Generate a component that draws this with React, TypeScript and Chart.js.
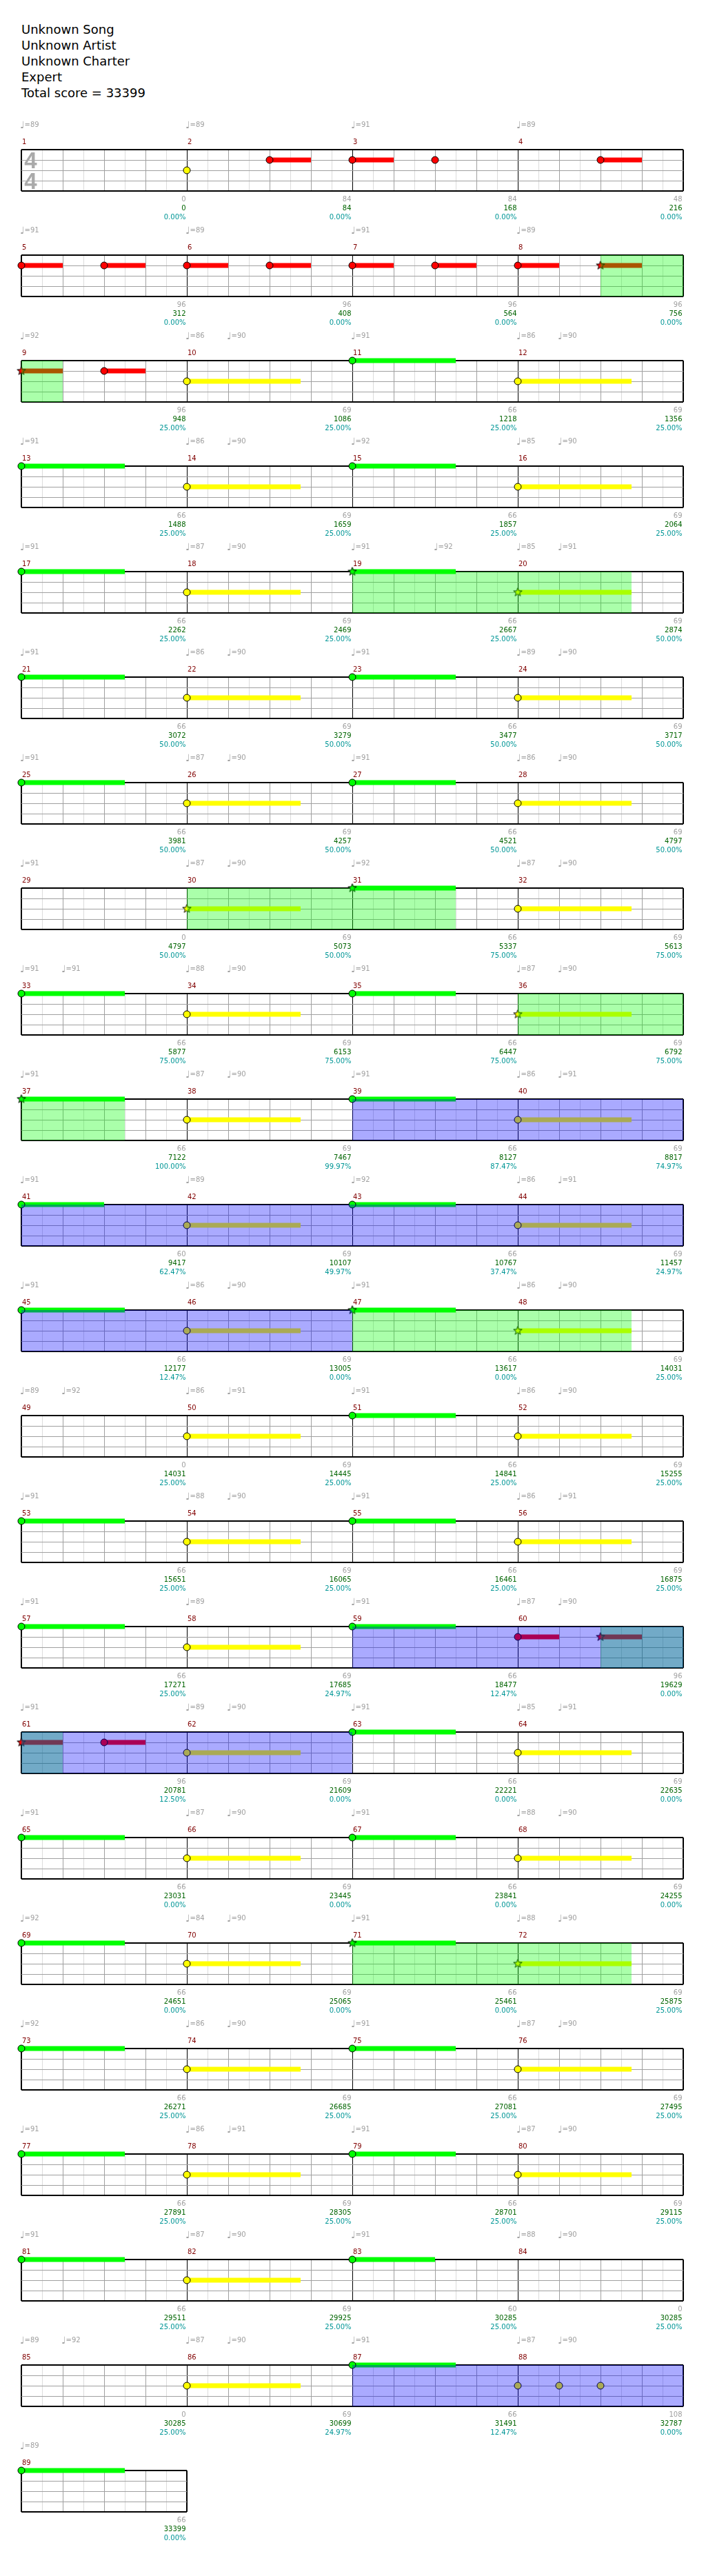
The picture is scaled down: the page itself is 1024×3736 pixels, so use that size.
import React, { useEffect, useRef } from "react";
import { Chart, registerables } from "chart.js";

Chart.register(...registerables);

const TITLE_LINES = ["Unknown Song", "Unknown Artist", "Unknown Charter", "Expert", "Total score = 33399"];
const MEASURE_COUNT = 89;
const MEASURES_PER_ROW = 4;
const BEATS_PER_MEASURE = 4;
const LANE_COLORS = ["#00ff00", "#ff0000", "#ffff00", "#0000ff", "#ff8000"];

// [measure, beat, bpm]
const TEMPOS: number[][] = [
  [1, 0, 89], [2, 0, 89], [3, 0, 91], [4, 0, 89],
  [5, 0, 91], [6, 0, 89], [7, 0, 91], [8, 0, 89],
  [9, 0, 92], [10, 0, 86], [10, 1, 90], [11, 0, 91], [12, 0, 86], [12, 1, 90],
  [13, 0, 91], [14, 0, 86], [14, 1, 90], [15, 0, 92], [16, 0, 85], [16, 1, 90],
  [17, 0, 91], [18, 0, 87], [18, 1, 90], [19, 0, 91], [19, 2, 92], [20, 0, 85], [20, 1, 91],
  [21, 0, 91], [22, 0, 86], [22, 1, 90], [23, 0, 91], [24, 0, 89], [24, 1, 90],
  [25, 0, 91], [26, 0, 87], [26, 1, 90], [27, 0, 91], [28, 0, 86], [28, 1, 90],
  [29, 0, 91], [30, 0, 87], [30, 1, 90], [31, 0, 92], [32, 0, 87], [32, 1, 90],
  [33, 0, 91], [33, 1, 91], [34, 0, 88], [34, 1, 90], [35, 0, 91], [36, 0, 87], [36, 1, 90],
  [37, 0, 91], [38, 0, 87], [38, 1, 90], [39, 0, 91], [40, 0, 86], [40, 1, 91],
  [41, 0, 91], [42, 0, 89], [43, 0, 92], [44, 0, 86], [44, 1, 91],
  [45, 0, 91], [46, 0, 86], [46, 1, 90], [47, 0, 91], [48, 0, 86], [48, 1, 90],
  [49, 0, 89], [49, 1, 92], [50, 0, 86], [50, 1, 91], [51, 0, 91], [52, 0, 86], [52, 1, 90],
  [53, 0, 91], [54, 0, 88], [54, 1, 90], [55, 0, 91], [56, 0, 86], [56, 1, 91],
  [57, 0, 91], [58, 0, 89], [59, 0, 91], [60, 0, 87], [60, 1, 90],
  [61, 0, 91], [62, 0, 89], [62, 1, 90], [63, 0, 91], [64, 0, 85], [64, 1, 91],
  [65, 0, 91], [66, 0, 87], [66, 1, 90], [67, 0, 91], [68, 0, 88], [68, 1, 90],
  [69, 0, 92], [70, 0, 84], [70, 1, 90], [71, 0, 91], [72, 0, 88], [72, 1, 90],
  [73, 0, 92], [74, 0, 86], [74, 1, 90], [75, 0, 91], [76, 0, 87], [76, 1, 90],
  [77, 0, 91], [78, 0, 86], [78, 1, 91], [79, 0, 91], [80, 0, 87], [80, 1, 90],
  [81, 0, 91], [82, 0, 87], [82, 1, 90], [83, 0, 91], [84, 0, 88], [84, 1, 90],
  [85, 0, 89], [85, 1, 92], [86, 0, 87], [86, 1, 90], [87, 0, 91], [88, 0, 87], [88, 1, 90],
  [89, 0, 89],
];

// [measure, beat, lane (0 green .. 4 orange), sustain beats, star note]
const NOTES: number[][] = [
  [2, 0, 2, 0, 0], [2, 2, 1, 1, 0], [3, 0, 1, 1, 0], [3, 2, 1, 0, 0], [4, 2, 1, 1, 0],
  [5, 0, 1, 1, 0], [5, 2, 1, 1, 0], [6, 0, 1, 1, 0], [6, 2, 1, 1, 0], [7, 0, 1, 1, 0], [7, 2, 1, 1, 0], [8, 0, 1, 1, 0], [8, 2, 1, 1, 1],
  [9, 0, 1, 1, 1], [9, 2, 1, 1, 0], [10, 0, 2, 2.75, 0], [11, 0, 0, 2.5, 0], [12, 0, 2, 2.75, 0],
  [13, 0, 0, 2.5, 0], [14, 0, 2, 2.75, 0], [15, 0, 0, 2.5, 0], [16, 0, 2, 2.75, 0],
  [17, 0, 0, 2.5, 0], [18, 0, 2, 2.75, 0], [19, 0, 0, 2.5, 1], [20, 0, 2, 2.75, 1],
  [21, 0, 0, 2.5, 0], [22, 0, 2, 2.75, 0], [23, 0, 0, 2.5, 0], [24, 0, 2, 2.75, 0],
  [25, 0, 0, 2.5, 0], [26, 0, 2, 2.75, 0], [27, 0, 0, 2.5, 0], [28, 0, 2, 2.75, 0],
  [30, 0, 2, 2.75, 1], [31, 0, 0, 2.5, 1], [32, 0, 2, 2.75, 0],
  [33, 0, 0, 2.5, 0], [34, 0, 2, 2.75, 0], [35, 0, 0, 2.5, 0], [36, 0, 2, 2.75, 1],
  [37, 0, 0, 2.5, 1], [38, 0, 2, 2.75, 0], [39, 0, 0, 2.5, 0], [40, 0, 2, 2.75, 0],
  [41, 0, 0, 2, 0], [42, 0, 2, 2.75, 0], [43, 0, 0, 2.5, 0], [44, 0, 2, 2.75, 0],
  [45, 0, 0, 2.5, 0], [46, 0, 2, 2.75, 0], [47, 0, 0, 2.5, 1], [48, 0, 2, 2.75, 1],
  [50, 0, 2, 2.75, 0], [51, 0, 0, 2.5, 0], [52, 0, 2, 2.75, 0],
  [53, 0, 0, 2.5, 0], [54, 0, 2, 2.75, 0], [55, 0, 0, 2.5, 0], [56, 0, 2, 2.75, 0],
  [57, 0, 0, 2.5, 0], [58, 0, 2, 2.75, 0], [59, 0, 0, 2.5, 0], [60, 0, 1, 1, 0], [60, 2, 1, 1, 1],
  [61, 0, 1, 1, 1], [61, 2, 1, 1, 0], [62, 0, 2, 2.75, 0], [63, 0, 0, 2.5, 0], [64, 0, 2, 2.75, 0],
  [65, 0, 0, 2.5, 0], [66, 0, 2, 2.75, 0], [67, 0, 0, 2.5, 0], [68, 0, 2, 2.75, 0],
  [69, 0, 0, 2.5, 0], [70, 0, 2, 2.75, 0], [71, 0, 0, 2.5, 1], [72, 0, 2, 2.75, 1],
  [73, 0, 0, 2.5, 0], [74, 0, 2, 2.75, 0], [75, 0, 0, 2.5, 0], [76, 0, 2, 2.75, 0],
  [77, 0, 0, 2.5, 0], [78, 0, 2, 2.75, 0], [79, 0, 0, 2.5, 0], [80, 0, 2, 2.75, 0],
  [81, 0, 0, 2.5, 0], [82, 0, 2, 2.75, 0], [83, 0, 0, 2, 0],
  [86, 0, 2, 2.75, 0], [87, 0, 0, 2.5, 0], [88, 0, 2, 0, 0], [88, 1, 2, 0, 0], [88, 2, 2, 0, 0],
  [89, 0, 0, 2.5, 0],
];

// star power phrases, [start beat, end beat] counted from the song start
const STAR_PHRASES: number[][] = [
  [30, 33], [72, 78.75], [116, 122.5], [140, 146.5], [184, 190.75], [238, 241], [280, 286.75],
];
// star power activations, [start beat, end beat]
const ACTIVATIONS: number[][] = [
  [152, 184], [232, 248], [344, 352],
];

const MEASURE_SCORES = [
  0, 84, 84, 48, 96, 96, 96, 96, 96, 69, 66, 69, 66, 69, 66, 69, 66, 69, 66, 69,
  66, 69, 66, 69, 66, 69, 66, 69, 0, 69, 66, 69, 66, 69, 66, 69, 66, 69, 66, 69,
  60, 69, 66, 69, 66, 69, 66, 69, 0, 69, 66, 69, 66, 69, 66, 69, 66, 69, 66, 96,
  96, 69, 66, 69, 66, 69, 66, 69, 66, 69, 66, 69, 66, 69, 66, 69, 66, 69, 66, 69,
  66, 69, 60, 0, 0, 69, 66, 108, 66,
];
const CUMULATIVE_SCORES = [
  0, 84, 168, 216, 312, 408, 564, 756, 948, 1086, 1218, 1356, 1488, 1659, 1857, 2064,
  2262, 2469, 2667, 2874, 3072, 3279, 3477, 3717, 3981, 4257, 4521, 4797,
  4797, 5073, 5337, 5613, 5877, 6153, 6447, 6792, 7122, 7467, 8127, 8817,
  9417, 10107, 10767, 11457, 12177, 13005, 13617, 14031, 14031, 14445, 14841, 15255,
  15651, 16065, 16461, 16875, 17271, 17685, 18477, 19629, 20781, 21609, 22221, 22635,
  23031, 23445, 23841, 24255, 24651, 25065, 25461, 25875, 26271, 26685, 27081, 27495,
  27891, 28305, 28701, 29115, 29511, 29925, 30285, 30285, 30285, 30699, 31491, 32787,
  33399,
];
const SP_METER = [
  "0.00%", "0.00%", "0.00%", "0.00%", "0.00%", "0.00%", "0.00%", "0.00%",
  "25.00%", "25.00%", "25.00%", "25.00%", "25.00%", "25.00%", "25.00%", "25.00%",
  "25.00%", "25.00%", "25.00%", "50.00%", "50.00%", "50.00%", "50.00%", "50.00%",
  "50.00%", "50.00%", "50.00%", "50.00%", "50.00%", "50.00%", "75.00%", "75.00%",
  "75.00%", "75.00%", "75.00%", "75.00%", "100.00%", "99.97%", "87.47%", "74.97%",
  "62.47%", "49.97%", "37.47%", "24.97%", "12.47%", "0.00%", "0.00%", "25.00%",
  "25.00%", "25.00%", "25.00%", "25.00%", "25.00%", "25.00%", "25.00%", "25.00%",
  "25.00%", "24.97%", "12.47%", "0.00%", "12.50%", "0.00%", "0.00%", "0.00%",
  "0.00%", "0.00%", "0.00%", "0.00%", "0.00%", "0.00%", "0.00%", "25.00%",
  "25.00%", "25.00%", "25.00%", "25.00%", "25.00%", "25.00%", "25.00%", "25.00%",
  "25.00%", "25.00%", "25.00%", "25.00%", "25.00%", "24.97%", "12.47%", "0.00%",
  "0.00%",
];

const FONT = '"DejaVu Sans", sans-serif';
const ROW_PITCH = 153;
const FIRST_STAFF_TOP = 217;
const STAFF_LEFT = 31;
const MEASURE_PX = 240;
const CANVAS_TOP_PAD = 50;
const CANVAS_H = 160;

function makeStar(color: string): HTMLCanvasElement {
  const c = document.createElement("canvas");
  c.width = 15;
  c.height = 15;
  const g = c.getContext("2d")!;
  g.beginPath();
  for (let i = 0; i < 10; i++) {
    const r = i % 2 === 0 ? 6.5 : 2.7;
    const a = -Math.PI / 2 + (i * Math.PI) / 5;
    const px = 7.5 + r * Math.cos(a);
    const py = 7.5 + r * Math.sin(a);
    if (i === 0) g.moveTo(px, py);
    else g.lineTo(px, py);
  }
  g.closePath();
  g.fillStyle = color;
  g.fill();
  g.strokeStyle = "#000";
  g.lineWidth = 1;
  g.stroke();
  return c;
}

function StaffRow({ row }: { row: number }) {
  const ref = useRef<HTMLCanvasElement>(null);

  useEffect(() => {
    const firstMeasure = row * MEASURES_PER_ROW + 1;
    const lastMeasure = Math.min(firstMeasure + MEASURES_PER_ROW - 1, MEASURE_COUNT);
    const nMeasures = lastMeasure - firstMeasure + 1;
    const nBeats = nMeasures * BEATS_PER_MEASURE;
    const rowStart = (firstMeasure - 1) * BEATS_PER_MEASURE;
    const rightPad = 1024 - STAFF_LEFT - nMeasures * MEASURE_PX;

    const stars = LANE_COLORS.map((c) => makeStar(c));
    const datasets: any[] = [];

    const addRegions = (list: number[][], color: string, order: number) => {
      list.forEach(([a, b]) => {
        const s = Math.max(a - rowStart, 0);
        const e = Math.min(b - rowStart, nBeats);
        if (e <= s) return;
        datasets.push({
          type: "line",
          data: [{ x: s, y: 0 }, { x: e, y: 0 }],
          borderWidth: 0,
          borderColor: "rgba(0,0,0,0)",
          backgroundColor: color,
          pointRadius: 0,
          fill: { value: 4 },
          order,
        });
      });
    };
    addRegions(ACTIVATIONS, "rgba(0,0,255,0.333)", 0);
    addRegions(STAR_PHRASES, "rgba(0,255,0,0.333)", 1);

    const rowNotes = NOTES.filter((n) => n[0] >= firstMeasure && n[0] <= lastMeasure);
    datasets.push({
      type: "line",
      showLine: false,
      data: rowNotes.map((n) => ({ x: (n[0] - firstMeasure) * BEATS_PER_MEASURE + n[1], y: n[2] })),
      pointRadius: 5,
      pointBorderWidth: 1,
      pointBorderColor: "#000",
      pointBackgroundColor: rowNotes.map((n) => LANE_COLORS[n[2]]),
      pointStyle: rowNotes.map((n) => (n[4] ? stars[n[2]] : "circle")),
      clip: false,
      order: 2,
    });

    rowNotes
      .filter((n) => n[3] > 0)
      .forEach((n) => {
        const s = (n[0] - firstMeasure) * BEATS_PER_MEASURE + n[1];
        datasets.push({
          type: "line",
          data: [{ x: s, y: n[2] }, { x: s + n[3], y: n[2] }],
          borderColor: LANE_COLORS[n[2]],
          borderWidth: 7,
          borderCapStyle: "butt",
          pointRadius: 0,
          fill: false,
          clip: false,
          order: 3,
        });
      });

    const textPlugin = {
      id: "rowText",
      afterDraw(chart: any) {
        const { ctx, chartArea, scales } = chart;
        const xs = scales.x;
        const top = chartArea.top;
        ctx.save();
        ctx.textBaseline = "middle";
        for (let m = firstMeasure; m <= lastMeasure; m++) {
          const mx = xs.getPixelForValue((m - firstMeasure) * BEATS_PER_MEASURE);
          const ex = xs.getPixelForValue((m - firstMeasure + 1) * BEATS_PER_MEASURE);
          ctx.font = `10px ${FONT}`;
          ctx.textAlign = "left";
          ctx.fillStyle = "#800000";
          ctx.fillText(String(m), mx + 1, top - 11);
          ctx.textAlign = "right";
          ctx.fillStyle = "#a0a0a0";
          ctx.fillText(String(MEASURE_SCORES[m - 1]), ex - 1.5, top + 72);
          ctx.fillStyle = "#006400";
          ctx.fillText(String(CUMULATIVE_SCORES[m - 1]), ex - 1.5, top + 85);
          ctx.fillStyle = "#009696";
          ctx.fillText(SP_METER[m - 1], ex - 1.5, top + 98);
        }
        TEMPOS.filter((t) => t[0] >= firstMeasure && t[0] <= lastMeasure).forEach((t) => {
          const tx = xs.getPixelForValue((t[0] - firstMeasure) * BEATS_PER_MEASURE + t[1]);
          ctx.fillStyle = "#a0a0a0";
          ctx.textAlign = "left";
          ctx.textBaseline = "alphabetic";
          ctx.font = `14px ${FONT}`;
          ctx.fillText("\u2669", tx - 2, top - 31);
          ctx.textBaseline = "middle";
          ctx.font = `10px ${FONT}`;
          ctx.fillText("=" + t[2], tx + 4.5, top - 36);
        });
        if (row === 0) {
          ctx.fillStyle = "#aaaaaa";
          ctx.textAlign = "center";
          ctx.textBaseline = "middle";
          ctx.font = 'bold 33px "Liberation Sans", sans-serif';
          const cx = xs.getPixelForValue(0) + 13.5;
          ctx.fillText("4", cx, top + 18);
          ctx.fillText("4", cx, top + 48);
        }
        ctx.restore();
      },
    };

    const chart = new Chart(ref.current!, {
      type: "line",
      data: { datasets },
      options: {
        responsive: false,
        animation: false,
        devicePixelRatio: 1,
        events: [],
        layout: {
          autoPadding: false,
          padding: { left: STAFF_LEFT, right: rightPad, top: CANVAS_TOP_PAD, bottom: CANVAS_H - CANVAS_TOP_PAD - 60 },
        },
        plugins: { legend: { display: false }, tooltip: { enabled: false } },
        scales: {
          x: {
            type: "linear",
            min: 0,
            max: nBeats,
            ticks: { display: false, stepSize: 0.5 },
            border: { display: false },
            grid: {
              drawTicks: false,
              color: (c: any) => {
                const v = c.tick ? c.tick.value : 0;
                if (v % BEATS_PER_MEASURE === 0) return "#000000";
                if (v % 1 === 0) return "#a0a0a0";
                return "#dcdcdc";
              },
              lineWidth: (c: any) => {
                const v = c.tick ? c.tick.value : 0;
                return v === 0 || v === nBeats ? 2 : 1;
              },
            },
          },
          y: {
            type: "linear",
            min: 0,
            max: 4,
            reverse: true,
            ticks: { display: false, stepSize: 1 },
            border: { display: false },
            grid: {
              drawTicks: false,
              color: (c: any) => {
                const v = c.tick ? c.tick.value : 0;
                return v === 0 || v === 4 ? "#000000" : "#a0a0a0";
              },
              lineWidth: (c: any) => {
                const v = c.tick ? c.tick.value : 0;
                return v === 0 || v === 4 ? 2 : 1;
              },
            },
          },
        },
      } as any,
      plugins: [textPlugin],
    } as any);

    return () => chart.destroy();
  }, [row]);

  return (
    <canvas
      ref={ref}
      width={1024}
      height={CANVAS_H}
      style={{ position: "absolute", left: 0, top: FIRST_STAFF_TOP - CANVAS_TOP_PAD + row * ROW_PITCH, width: 1024, height: CANVAS_H }}
    />
  );
}

export default function App() {
  const rows = Math.ceil(MEASURE_COUNT / MEASURES_PER_ROW);
  const rowIds = Array.from({ length: rows }, (_, i) => i);
  return (
    <div style={{ position: "absolute", left: 0, top: 0, width: 1024, height: 3736, background: "#fff" }}>
      <div style={{ position: "absolute", left: 31, top: 31, fontFamily: FONT, fontSize: 18, lineHeight: "23px", color: "#000" }}>
        {TITLE_LINES.map((t) => (
          <div key={t}>{t}</div>
        ))}
      </div>
      {rowIds.map((r) => (
        <StaffRow key={r} row={r} />
      ))}
    </div>
  );
}
